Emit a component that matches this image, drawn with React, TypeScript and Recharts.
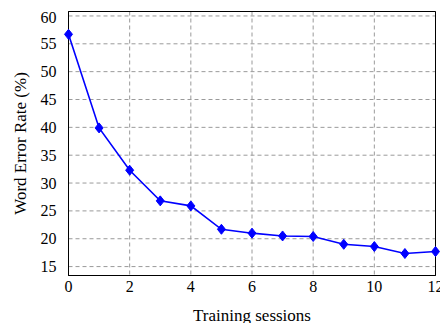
import React from 'react'
import { LineChart, Line, XAxis, YAxis, CartesianGrid, Label, ReferenceArea } from 'recharts'

const sessions = [0, 1, 2, 3, 4, 5, 6, 7, 8, 9, 10, 11, 12]
const werValues = [56.7, 39.9, 32.3, 26.8, 25.9, 21.7, 21.0, 20.5, 20.4, 19.0, 18.6, 17.35, 17.7]
const xTicks = [0, 2, 4, 6, 8, 10, 12]
const yTicks = [15, 20, 25, 30, 35, 40, 45, 50, 55, 60]
const xDomain = [0, 12]
const yDomain = [13.4, 60.8]

const data = sessions.map((s, i) => ({ session: s, wer: werValues[i] }))

const font = '"Liberation Serif", "Times New Roman", serif'

const Diamond = (props: any) => {
  const { cx, cy } = props
  if (cx == null || cy == null) return null
  return (
    <polygon
      points={`${cx},${cy - 5} ${cx + 4},${cy} ${cx},${cy + 5} ${cx - 4},${cy}`}
      fill="#0000ff"
      stroke="#0000ff"
    />
  )
}

const renderXTick = (p: any) => (
  <text key={p.index} x={p.x} y={p.y + 6} textAnchor="middle" fontSize={16} fontFamily={font} fill="#000">
    {p.payload.value}
  </text>
)

const renderYTick = (p: any) => (
  <text key={p.index} x={p.x} y={p.y} textAnchor="end" dominantBaseline="central" fontSize={16} fontFamily={font} fill="#000">
    {p.payload.value}
  </text>
)

export default function App() {
  return (
    <LineChart
      width={440}
      height={315}
      data={data}
      margin={{ top: 3.5, right: 12.5, left: 0, bottom: 0 }}
    >
      <CartesianGrid stroke="#9a9a9a" strokeDasharray="4 3" strokeWidth={1} />
      <XAxis
        dataKey="session"
        type="number"
        domain={xDomain}
        ticks={xTicks}
        height={47.5}
        tickLine={false}
        tickMargin={4}
        axisLine={{ stroke: '#000' }}
        tick={renderXTick}
      >
        <Label
          content={({ viewBox }: any) => (
            <text
              x={viewBox.x + viewBox.width / 2}
              y={viewBox.y + 45}
              textAnchor="middle"
              fontSize={17}
              fontFamily={font}
              fill="#000"
            >
              Training sessions
            </text>
          )}
        />
      </XAxis>
      <YAxis
        type="number"
        domain={yDomain}
        ticks={yTicks}
        width={60.5}
        tickLine={false}
        tickMargin={6}
        axisLine={{ stroke: '#000' }}
        tick={renderYTick}
      >
        <Label
          content={({ viewBox }: any) => (
            <text
              x={12}
              y={viewBox.y + viewBox.height / 2}
              transform={`rotate(-90, 12, ${viewBox.y + viewBox.height / 2})`}
              textAnchor="middle"
              dominantBaseline="central"
              fontSize={17}
              fontFamily={font}
              fill="#000"
            >
              Word Error Rate (%)
            </text>
          )}
        />
      </YAxis>
      <ReferenceArea
        x1={xDomain[0]}
        x2={xDomain[1]}
        y1={yDomain[0]}
        y2={yDomain[1]}
        fill="none"
        fillOpacity={0}
        stroke="#000"
        strokeWidth={1}
        ifOverflow="visible"
      />
      <Line
        dataKey="wer"
        stroke="#0000ff"
        strokeWidth={1.6}
        dot={<Diamond />}
        activeDot={false}
        isAnimationActive={false}
      />
    </LineChart>
  )
}
